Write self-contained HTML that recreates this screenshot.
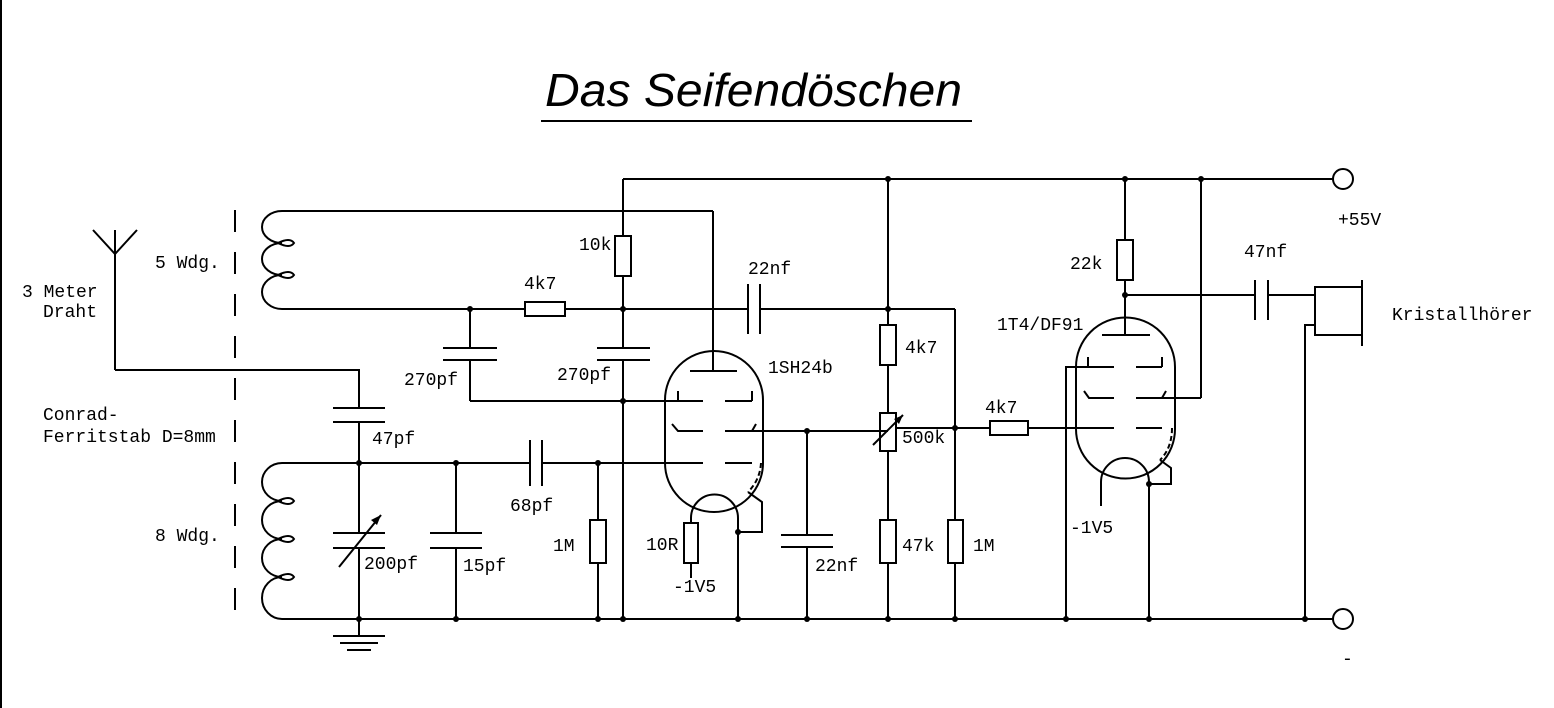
<!DOCTYPE html>
<html><head><meta charset="utf-8"><style>
html,body{margin:0;padding:0;background:#fff;}
svg{display:block;}
text{font-family:"Liberation Mono",monospace;font-size:18px;fill:#000;}
</style></head><body>
<svg width="1554" height="708" viewBox="0 0 1554 708" xmlns="http://www.w3.org/2000/svg">
<rect width="1554" height="708" fill="#fff"/>
<g stroke="#000" stroke-width="2" fill="none">
<line x1="1" y1="0" x2="1" y2="708"/>
<line x1="541" y1="121" x2="972" y2="121"/>
<line x1="623" y1="179" x2="1333" y2="179"/>
<circle cx="1343" cy="179" r="10"/>
<line x1="282" y1="619" x2="1333" y2="619"/>
<circle cx="1343" cy="619" r="10"/>
<line x1="235" y1="210" x2="235" y2="622" stroke-dasharray="22,20"/>
<path d="M282 211 A20 16 0 0 0 282 243 A20 16 0 0 0 282 275 A20 17 0 0 0 282 309"/>
<path d="M278 243 Q290 237 294 243 Q290 249 278 243 M278 275 Q290 269 294 275 Q290 281 278 275"/>
<line x1="282" y1="211" x2="713" y2="211"/>
<line x1="713" y1="211" x2="713" y2="371"/>
<line x1="282" y1="309" x2="525" y2="309"/>
<rect x="525" y="302" width="40" height="14"/>
<line x1="565" y1="309" x2="748" y2="309"/>
<line x1="748" y1="284" x2="748" y2="334"/><line x1="760" y1="284" x2="760" y2="334"/>
<line x1="760" y1="309" x2="955" y2="309"/>
<line x1="955" y1="309" x2="955" y2="520"/>
<rect x="948" y="520" width="15" height="43"/>
<line x1="955" y1="563" x2="955" y2="619"/>
<line x1="470" y1="309" x2="470" y2="348"/>
<line x1="443" y1="348" x2="497" y2="348"/><line x1="443" y1="360" x2="497" y2="360"/>
<line x1="470" y1="360" x2="470" y2="401"/>
<line x1="470" y1="401" x2="703" y2="401"/>
<line x1="623" y1="179" x2="623" y2="236"/>
<rect x="615" y="236" width="16" height="40"/>
<line x1="623" y1="276" x2="623" y2="348"/>
<line x1="597" y1="348" x2="650" y2="348"/><line x1="597" y1="360" x2="650" y2="360"/>
<line x1="623" y1="360" x2="623" y2="619"/>
<polyline points="93,230 115,254 137,230"/>
<line x1="115" y1="230" x2="115" y2="370"/>
<polyline points="115,370 359,370 359,408"/>
<line x1="333" y1="408" x2="385" y2="408"/><line x1="333" y1="422" x2="385" y2="422"/>
<line x1="359" y1="422" x2="359" y2="533"/>
<path d="M282 463 A20 19 0 0 0 282 501 A20 19 0 0 0 282 539 A20 19 0 0 0 282 577 A20 21 0 0 0 282 619"/>
<path d="M278 501 Q290 495 294 501 Q290 507 278 501 M278 539 Q290 533 294 539 Q290 545 278 539 M278 577 Q290 571 294 577 Q290 583 278 577"/>
<line x1="282" y1="463" x2="530" y2="463"/>
<line x1="530" y1="440" x2="530" y2="486"/><line x1="542" y1="440" x2="542" y2="486"/>
<line x1="542" y1="463" x2="703" y2="463"/>
<line x1="333" y1="533" x2="385" y2="533"/><line x1="333" y1="548" x2="385" y2="548"/>
<line x1="359" y1="548" x2="359" y2="636"/>
<line x1="339" y1="567" x2="381" y2="515"/>
<line x1="333" y1="636" x2="385" y2="636"/><line x1="340" y1="643" x2="378" y2="643"/><line x1="347" y1="650" x2="371" y2="650"/>
<line x1="456" y1="463" x2="456" y2="533"/>
<line x1="430" y1="533" x2="482" y2="533"/><line x1="430" y1="548" x2="482" y2="548"/>
<line x1="456" y1="548" x2="456" y2="619"/>
<line x1="598" y1="463" x2="598" y2="520"/>
<rect x="590" y="520" width="16" height="43"/>
<line x1="598" y1="563" x2="598" y2="619"/>
<path d="M665 400 A49 49 0 0 1 763 400 L763 463 A49 49 0 0 1 665 463 Z"/>
<line x1="690" y1="371" x2="737" y2="371"/>
<line x1="678" y1="391" x2="678" y2="401"/><line x1="725" y1="401" x2="752" y2="401"/><line x1="752" y1="391" x2="752" y2="401"/>
<polyline points="672,424 678,431 703,431"/>
<polyline points="725,431 752,431"/><line x1="752" y1="431" x2="756" y2="424"/>
<line x1="752" y1="431" x2="888" y2="431"/>
<line x1="725" y1="463" x2="752" y2="463"/>
<path d="M691 518 A23 23 0 0 1 738 518"/>
<line x1="691" y1="518" x2="691" y2="523"/>
<rect x="684" y="523" width="14" height="40"/>
<line x1="691" y1="563" x2="691" y2="578"/>
<line x1="738" y1="518" x2="738" y2="619"/>
<polyline points="738,532 762,532 762,502 748,492"/>
<path d="M761 463 Q760 480 748 492" stroke-dasharray="5,3"/>
<line x1="807" y1="431" x2="807" y2="535"/>
<line x1="781" y1="535" x2="833" y2="535"/><line x1="781" y1="547" x2="833" y2="547"/>
<line x1="807" y1="547" x2="807" y2="619"/>
<line x1="888" y1="179" x2="888" y2="325"/>
<rect x="880" y="325" width="16" height="40"/>
<line x1="888" y1="365" x2="888" y2="413"/>
<rect x="880" y="413" width="16" height="38"/>
<line x1="873" y1="445" x2="903" y2="415"/>
<line x1="888" y1="451" x2="888" y2="520"/>
<rect x="880" y="520" width="16" height="43"/>
<line x1="888" y1="563" x2="888" y2="619"/>
<line x1="896" y1="428" x2="990" y2="428"/>
<rect x="990" y="421" width="38" height="14"/>
<line x1="1028" y1="428" x2="1114" y2="428"/>
<path d="M1076 367 A49 49 0 0 1 1175 367 L1175 429 A49 49 0 0 1 1076 429 Z"/>
<line x1="1125" y1="179" x2="1125" y2="240"/>
<rect x="1117" y="240" width="16" height="40"/>
<line x1="1125" y1="280" x2="1125" y2="335"/>
<line x1="1102" y1="335" x2="1150" y2="335"/>
<line x1="1125" y1="295" x2="1255" y2="295"/>
<line x1="1255" y1="280" x2="1255" y2="320"/><line x1="1268" y1="280" x2="1268" y2="320"/>
<line x1="1268" y1="295" x2="1315" y2="295"/>
<rect x="1315" y="287" width="47" height="48"/>
<line x1="1362" y1="280" x2="1362" y2="346"/>
<polyline points="1315,325 1305,325 1305,619"/>
<polyline points="1066,619 1066,367 1114,367"/>
<line x1="1088" y1="357" x2="1088" y2="367"/>
<line x1="1136" y1="367" x2="1162" y2="367"/><line x1="1162" y1="357" x2="1162" y2="367"/>
<polyline points="1084,391 1089,398 1114,398"/>
<line x1="1136" y1="398" x2="1201" y2="398"/><line x1="1162" y1="398" x2="1166" y2="391"/>
<line x1="1201" y1="398" x2="1201" y2="179"/>
<line x1="1136" y1="428" x2="1162" y2="428"/>
<path d="M1101 482 A24 24 0 0 1 1149 482"/>
<line x1="1101" y1="482" x2="1101" y2="506"/>
<line x1="1149" y1="482" x2="1149" y2="619"/>
<polyline points="1149,484 1171,484 1171,468 1160,460"/>
<path d="M1172 428 Q1172 448 1160 460" stroke-dasharray="5,3"/>
</g>
<g fill="#000">
<path d="M381 515 L371 520 L377 525 Z"/>
<path d="M903 415 L894 419 L899 424 Z"/>
<circle cx="470" cy="309" r="3"/><circle cx="623" cy="309" r="3"/><circle cx="623" cy="401" r="3"/>
<circle cx="359" cy="463" r="3"/><circle cx="456" cy="463" r="3"/><circle cx="598" cy="463" r="3"/>
<circle cx="359" cy="619" r="3"/><circle cx="456" cy="619" r="3"/>
<circle cx="807" cy="431" r="3"/><circle cx="888" cy="179" r="3"/><circle cx="888" cy="309" r="3"/>
<circle cx="955" cy="428" r="3"/><circle cx="738" cy="532" r="3"/><circle cx="888" cy="619" r="3"/><circle cx="955" cy="619" r="3"/>
<circle cx="1125" cy="179" r="3"/><circle cx="1201" cy="179" r="3"/><circle cx="1125" cy="295" r="3"/>
<circle cx="1149" cy="484" r="3"/><circle cx="1149" cy="619" r="3"/><circle cx="1305" cy="619" r="3"/><circle cx="1066" cy="619" r="3"/>
<circle cx="807" cy="619" r="3"/><circle cx="738" cy="619" r="3"/><circle cx="623" cy="619" r="3"/><circle cx="598" cy="619" r="3"/>
</g>
<text x="545" y="106" textLength="417" lengthAdjust="spacingAndGlyphs" style="font-family:'Liberation Sans',sans-serif;font-size:46px;font-style:italic">Das Seifendöschen</text>
<text x="155" y="268">5 Wdg.</text>
<text x="22" y="297">3 Meter</text>
<text x="43" y="317">Draht</text>
<text x="43" y="420">Conrad-</text>
<text x="43" y="442">Ferritstab D=8mm</text>
<text x="155" y="541">8 Wdg.</text>
<text x="372" y="444">47pf</text>
<text x="364" y="569">200pf</text>
<text x="463" y="571">15pf</text>
<text x="510" y="511">68pf</text>
<text x="404" y="385">270pf</text>
<text x="557" y="380">270pf</text>
<text x="579" y="250">10k</text>
<text x="524" y="289">4k7</text>
<text x="748" y="274">22nf</text>
<text x="768" y="373">1SH24b</text>
<text x="553" y="551">1M</text>
<text x="646" y="550">10R</text>
<text x="673" y="592">-1V5</text>
<text x="815" y="571">22nf</text>
<text x="905" y="353">4k7</text>
<text x="902" y="443">500k</text>
<text x="902" y="551">47k</text>
<text x="973" y="551">1M</text>
<text x="985" y="413">4k7</text>
<text x="997" y="330">1T4/DF91</text>
<text x="1070" y="533">-1V5</text>
<text x="1070" y="269">22k</text>
<text x="1244" y="257">47nf</text>
<text x="1338" y="225">+55V</text>
<text x="1392" y="320">Kristallhörer</text>
<text x="1342" y="664">-</text>
</svg>
</body></html>
